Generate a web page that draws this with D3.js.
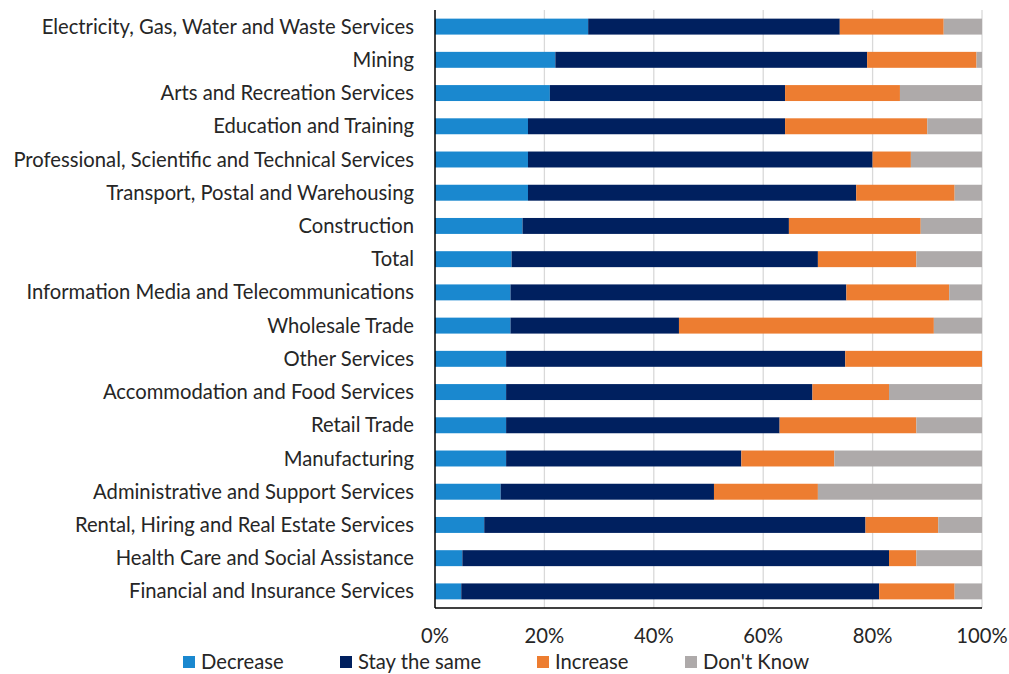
<!DOCTYPE html>
<html><head><meta charset="utf-8">
<script src="https://cdn.jsdelivr.net/npm/d3@7"></script>
<style>body{margin:0;background:#fff}svg{display:block}text{font-family:Lato,"Noto Sans",sans-serif;fill:#262626}</style>
</head><body><svg id="c" width="1009" height="674"></svg>
<script>
const categories = ["Electricity, Gas, Water and Waste Services","Mining","Arts and Recreation Services","Education and Training","Professional, Scientific and Technical Services","Transport, Postal and Warehousing","Construction","Total","Information Media and Telecommunications","Wholesale Trade","Other Services","Accommodation and Food Services","Retail Trade","Manufacturing","Administrative and Support Services","Rental, Hiring and Real Estate Services","Health Care and Social Assistance","Financial and Insurance Services"];
const decrease = [28,22,21,17,17,17,16,14,13.8,13.8,13,13,13,13,12,9,5,4.8];
const staySame = [46,57,43,47,63,60,48.7,56,61.4,30.8,62,56,50,43,39,69.7,78,76.4];
const increase = [19,20,21,26,7,18,24.1,18,18.8,46.6,25,14,25,17,19,13.3,5,13.8];
const dontKnow = [7,1,15,10,13,5,11.2,12,6,8.8,0,17,12,27,30,8,12,5];
const seriesNames = ["Decrease","Stay the same","Increase","Don't Know"];
const ticks = [0,0.2,0.4,0.6,0.8,1];
const colors = ["#1a88cf","#00205f","#ed7d31","#aeaaaa"];

const svg = d3.select("#c");
const L=435, R=982, T=10, B=608;
const x = d3.scaleLinear().domain([0,1]).range([L,R]);
const y = d3.scaleBand().domain(categories).range([T,B]).paddingInner(0.52).paddingOuter(0.26);

const rows = categories.map((c,i)=>{
  const vals=[decrease[i],staySame[i],increase[i],dontKnow[i]];
  const tot=d3.sum(vals);
  const o={cat:c}; seriesNames.forEach((s,j)=>o[s]=vals[j]/tot); return o;
});
const stack = d3.stack().keys(seriesNames)(rows);

svg.append("g").selectAll("line").data(ticks.slice(1)).join("line")
  .attr("x1",d=>x(d)).attr("x2",d=>x(d)).attr("y1",T).attr("y2",B)
  .attr("stroke","#d9d9d9").attr("stroke-width",1.3);

svg.append("g").selectAll("g").data(stack).join("g").attr("fill",(d,i)=>colors[i])
  .selectAll("rect").data(d=>d).join("rect")
  .attr("x",d=>x(d[0])).attr("width",d=>x(d[1])-x(d[0]))
  .attr("y",d=>y(d.data.cat)).attr("height",y.bandwidth());

svg.append("line").attr("x1",L).attr("x2",L).attr("y1",T).attr("y2",B).attr("stroke","#000").attr("stroke-width",1.5);
svg.append("line").attr("x1",L).attr("x2",R).attr("y1",B).attr("y2",B).attr("stroke","#000").attr("stroke-width",1.5);

const fs=18;
const lab = svg.append("g").selectAll("text").data(categories).join("text")
  .attr("x",414).attr("y",d=>y(d)+y.bandwidth()/2).attr("dy","0.35em")
  .attr("text-anchor","end").attr("font-size",fs).text(d=>d);
let w=0; lab.each(function(){w=Math.max(w,this.getComputedTextLength());});
const nfs = fs*401/w;
lab.attr("font-size",nfs);

svg.append("g").selectAll("text").data(ticks).join("text")
  .attr("x",d=>x(d)).attr("y",636).attr("dy","0.35em").attr("text-anchor","middle")
  .attr("font-size",nfs).text(d=>d3.format(".0%")(d));

const legX=[183,340,537,685];
const lg = svg.append("g").selectAll("g").data(seriesNames).join("g")
  .attr("transform",(d,i)=>`translate(${legX[i]},662)`);
lg.append("rect").attr("x",0).attr("y",-6).attr("width",12).attr("height",12).attr("fill",(d,i)=>colors[i]);
lg.append("text").attr("x",18).attr("y",0).attr("dy","0.35em").attr("font-size",nfs).text(d=>d);
</script></body></html>
